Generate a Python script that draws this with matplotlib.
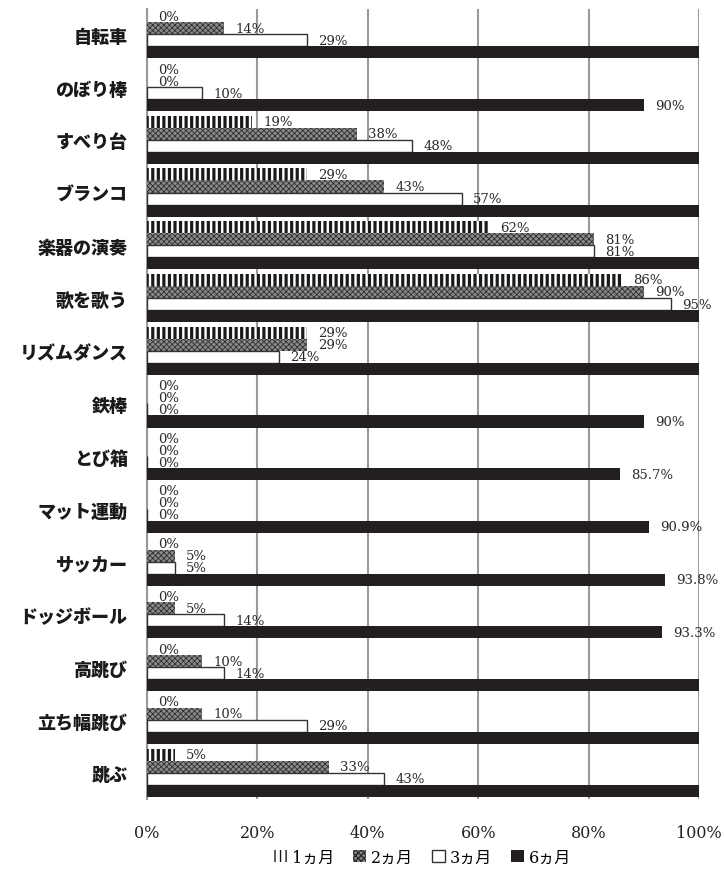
import matplotlib
matplotlib.use("Agg")
import matplotlib.pyplot as plt
from matplotlib.patches import Patch
import numpy as np

categories = ['自転車', 'のぼり棒', 'すべり台', 'ブランコ', '楽器の演奏', '歌を歌う',
              'リズムダンス', '鉄棒', 'とび箱', 'マット運動', 'サッカー', 'ドッジボール',
              '高跳び', '立ち幅跳び', '跳ぶ']
m1 = [0, 0, 19, 29, 62, 86, 29, 0, 0, 0, 0, 0, 0, 0, 5]
m2 = [14, 0, 38, 43, 81, 90, 29, 0, 0, 0, 5, 5, 10, 10, 33]
m3 = [29, 10, 48, 57, 81, 95, 24, 0, 0, 0, 5, 14, 14, 29, 43]
m6 = [100, 90, 100, 100, 100, 100, 100, 90, 85.7, 90.9, 93.8, 93.3, 100, 100, 100]
# labels shown in the picture (None = no label)
m6_labels = [None, '90%', None, None, None, None, None, '90%', '85.7%', '90.9%',
             '93.8%', '93.3%', None, None, None]
series_names = ['1ヵ月', '2ヵ月', '3ヵ月', '6ヵ月']

serif = ['DejaVu Serif', 'Noto Sans CJK JP']

fig = plt.figure(figsize=(7.24, 8.70), dpi=100)
ax = fig.add_axes([0.203, 0.0805, 0.7625, 0.908])

y = np.arange(len(categories))
h = 0.228

styles = [
    dict(facecolor='white', edgecolor='#1a1a1a', hatch='|||', linewidth=0, hl=2.3),
    dict(facecolor='#8a8a8a', edgecolor='#2e2e2e', hatch='xxxxxx', linewidth=0, hl=0.6),
    dict(facecolor='white', edgecolor='#333333', hatch=None, linewidth=1.0, hl=1.0),
    dict(facecolor='#231f20', edgecolor='#231f20', hatch=None, linewidth=0, hl=1.0),
]

all_vals = [m1, m2, m3, m6]
for i, (vals, st) in enumerate(zip(all_vals, styles)):
    pos = y + (i - 1.5) * h
    with plt.rc_context({'hatch.linewidth': st['hl']}):
        ax.barh(pos, vals, height=h, facecolor=st['facecolor'], edgecolor=st['edgecolor'],
                hatch=st['hatch'], linewidth=st['linewidth'], zorder=3)
    for j, v in enumerate(vals):
        if i == 3:
            lab = m6_labels[j]
        else:
            lab = f'{v:g}%'
        if lab is None:
            continue
        ax.annotate(lab, (v, pos[j]), xytext=(8, 0), textcoords='offset points',
                    va='center', ha='left', fontsize=9.5, family='DejaVu Serif',
                    color='#2a2a2a', zorder=4)

ax.set_xlim(0, 100)
ax.set_ylim(len(categories) - 0.5, -0.48)
ax.set_xticks([0, 20, 40, 60, 80, 100])
ax.set_xticklabels(['0%', '20%', '40%', '60%', '80%', '100%'], family='DejaVu Serif',
                   fontsize=11.5, color='#222222')
ax.set_yticks(y)
ax.set_yticklabels(categories, family='Noto Sans CJK JP', fontweight='black',
                   fontsize=13, color='#1a1a1a')
ax.tick_params(axis='both', length=0)
ax.tick_params(axis='y', pad=14)
ax.tick_params(axis='x', pad=18)
ax.grid(axis='x', color='#9a9a9a', linewidth=1.5, zorder=0)
for s in ['top', 'right', 'bottom']:
    ax.spines[s].set_visible(False)
ax.spines['left'].set_color('#9a9a9a')
ax.spines['left'].set_linewidth(1.5)

handles = []
for st in styles:
    handles.append(Patch(facecolor=st['facecolor'], edgecolor=st['edgecolor'] if st['hatch'] or st['linewidth'] else st['facecolor'],
                         hatch=st['hatch'], linewidth=st['linewidth']))
leg = fig.legend(handles, series_names, loc='center', bbox_to_anchor=(0.584, 0.014),
                 ncol=4, frameon=False, handlelength=0.8, handleheight=0.8,
                 handletextpad=0.3, columnspacing=1.2,
                 prop={'family': serif, 'size': 11.5})

fig.savefig('out.png', dpi=100)
